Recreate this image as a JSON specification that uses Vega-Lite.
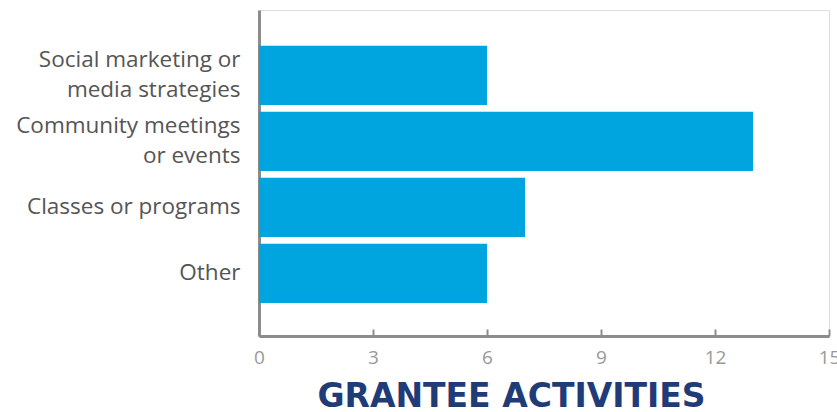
{
  "$schema": "https://vega.github.io/schema/vega-lite/v6.json",
  "width": 570,
  "height": 326,
  "autosize": {"type": "none"},
  "padding": {"left": 259, "top": 10, "right": 8, "bottom": 76},
  "background": "white",
  "data": {
    "values": [
      {"activity": "Social marketing or|media strategies", "count": 6},
      {"activity": "Community meetings|or events", "count": 13},
      {"activity": "Classes or programs", "count": 7},
      {"activity": "Other", "count": 6}
    ]
  },
  "mark": {"type": "bar", "color": "#00a5df"},
  "encoding": {
    "y": {
      "field": "activity",
      "type": "nominal",
      "sort": null,
      "scale": {"paddingInner": 0.1, "paddingOuter": 0.52, "align": 0.52},
      "axis": {
        "title": null,
        "ticks": false,
        "labelExpr": "split(datum.label, '|')",
        "labelFont": "Open Sans",
        "labelFontSize": 22.5,
        "labelColor": "#555555",
        "labelLineHeight": 30,
        "labelPadding": 19,
        "labelLimit": 300,
        "labelOffset": {"condition": {"test": "indexof(datum.value, '|') >= 0", "value": -15}, "value": 0},
        "domainColor": "#8c8c8c",
        "domainWidth": 3
      }
    },
    "x": {
      "field": "count",
      "type": "quantitative",
      "scale": {"domain": [0, 15], "nice": false},
      "axis": {
        "values": [0, 3, 6, 9, 12, 15],
        "grid": false,
        "tickSize": -7,
        "tickWidth": 2,
        "tickColor": "#8c8c8c",
        "domainColor": "#8c8c8c",
        "domainWidth": 3,
        "labelFlush": false,
        "labelFont": "Open Sans",
        "labelFontSize": 19,
        "labelColor": "#999999",
        "labelPadding": 19,
        "title": "GRANTEE ACTIVITIES",
        "titleFont": "DejaVu Sans",
        "titleFontSize": 33,
        "titleFontWeight": "bold",
        "titleColor": "#1f3c78",
        "titleX": 252,
        "titleY": 70,
        "titleBaseline": "alphabetic",
        "titleAnchor": "middle"
      }
    }
  }
}
